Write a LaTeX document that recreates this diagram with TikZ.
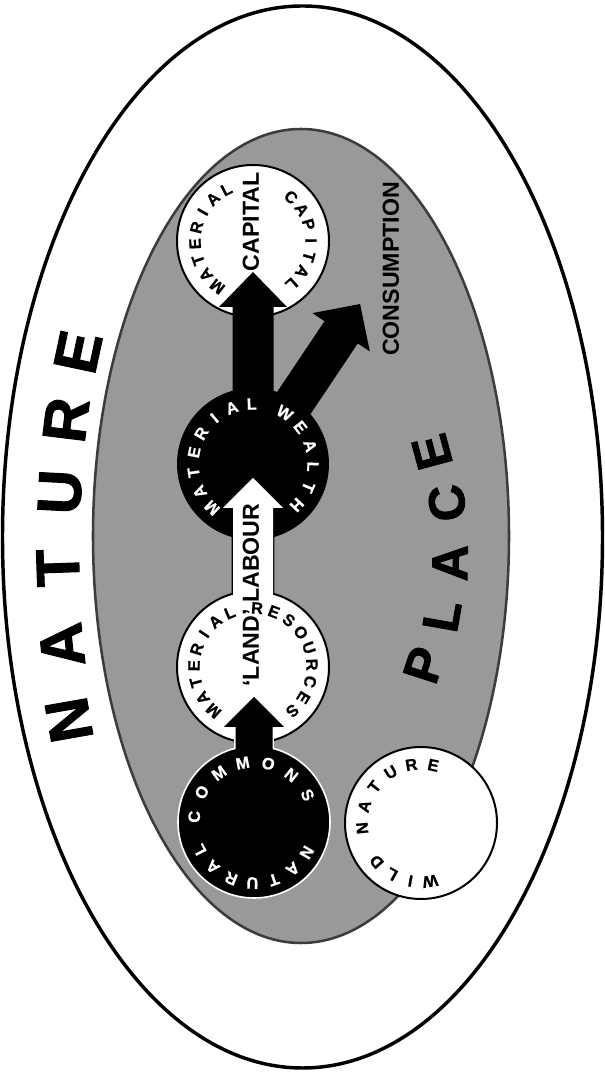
\documentclass[tikz,border=0pt]{standalone}
\usepackage{fontspec}
\setmainfont{Liberation Sans}
\newfontfamily\heavyfont[BoldFeatures={FakeBold=1.6}]{Liberation Sans}
\newfontfamily\midfont[BoldFeatures={FakeBold=0.8}]{Liberation Sans}
\usetikzlibrary{calc}
\definecolor{placegray}{HTML}{999999}
\definecolor{rimgray}{HTML}{3C3C3C}
\newcommand{\arctext}[7]{%
  \foreach \ch [count=\i from 0] in {#6} {%
    \pgfmathsetmacro\ang{#4-\i*(#5)}%
    \node[ctext,text=#7,rotate=\ang-90] (#1-\i) at ($(#2)+(\ang:#3)$) {\ch};
  }%
}
\begin{document}
\begin{tikzpicture}[x=0.75pt,y=0.75pt,
  ctext/.style={font=\midfont\bfseries\fontsize{12.3}{13}\selectfont, inner sep=0pt},
  bigword/.style={font=\heavyfont\bfseries\fontsize{46}{46}\selectfont, inner sep=0pt},
  placeword/.style={font=\heavyfont\bfseries\fontsize{38}{38}\selectfont, inner sep=0pt},
  flowtext/.style={font=\bfseries\fontsize{17.4}{18}\selectfont, inner sep=0pt},
  whitedisc/.style={fill=white, draw=black, line width=1.5pt},
]
\useasboundingbox (0,0) rectangle (605,1074);
% centres
\coordinate (capc) at (253,833);
\coordinate (welc) at (253,610);
\coordinate (resc) at (253,407);
\coordinate (comc) at (254,252);
\coordinate (wildc) at (421,251);
% outer nature ellipse
\path[fill=white, draw=black, line width=2.6pt] (302.5,537) ellipse [x radius=300, y radius=531];
% place ellipse
\path[fill=placegray, draw=rimgray, line width=1.9pt] (301,538) ellipse [x radius=208, y radius=407];
% wild nature
\path[whitedisc] (wildc) circle[radius=76];
% material capital
\path[whitedisc] (capc) circle[radius=76];
% arrows from wealth
\begin{scope}[shift={(welc)}]
  \fill[black] (-20.5,0) -- (-20.5,157) -- (-34,157) -- (0,192) -- (34,157) -- (20.5,157) -- (20.5,0) -- cycle;
\end{scope}
\begin{scope}[shift={(welc)}, rotate=-33.8]
  \fill[black] (-20,0) -- (-20,158.5) -- (-34.5,158.5) -- (0,192.5) -- (34.5,158.5) -- (20,158.5) -- (20,0) -- cycle;
\end{scope}
% material wealth
\fill[black] (welc) circle[radius=76];
% white arrow resources -> wealth
\begin{scope}[shift={(resc)}]
  \path[fill=white, draw=black, line width=2.2pt] (-20,0) -- (-20,159) -- (-30,159) -- (0,189) -- (30,159) -- (20,159) -- (20,0) -- cycle;
\end{scope}
\path[whitedisc] (resc) circle[radius=76];
\begin{scope}[shift={(resc)}]
  \fill[white] (-20,0) -- (-20,159) -- (-30,159) -- (0,189) -- (30,159) -- (20,159) -- (20,0) -- cycle;
\end{scope}
% black arrow commons -> resources
\begin{scope}[shift={(comc)}]
  \path[fill=black, draw=white, line width=2.2pt] (-18.5,0) -- (-18.5,95) -- (-30,95) -- (0,125) -- (30,95) -- (18.5,95) -- (18.5,0) -- cycle;
\end{scope}
\path[fill=black, draw=white, line width=1.2pt] (comc) circle[radius=76];
\begin{scope}[shift={(comc)}]
  \fill[black] (-18.5,0) -- (-18.5,95) -- (-30,95) -- (0,125) -- (30,95) -- (18.5,95) -- (18.5,0) -- cycle;
\end{scope}
% circle texts
\arctext{capm}{capc}{58}{232}{16.4}{M,A,T,E,R,I,A,L}{black}
\arctext{capk}{capc}{58}{49}{16.2}{C,A,P,I,T,A,L}{black}
\arctext{welm}{welc}{60}{227}{19.4}{M,A,T,E,R,I,A,L}{white}
\arctext{welw}{welc}{60}{58}{20.2}{W,E,A,L,T,H}{white}
\arctext{resm}{resc}{59}{228}{16.4}{M,A,T,E,R,I,A,L}{black}
\arctext{resr}{resc}{59}{86}{16.75}{R,E,S,O,U,R,C,E,S}{black}
\arctext{comt}{comc}{60}{175}{24.7}{C,O,M,M,O,N,S}{white}
\arctext{comb}{comc}{61}{-30}{20.5}{N,A,T,U,R,A,L}{white}
\arctext{wildt}{wildc}{59}{185}{21.4}{N,A,T,U,R,E}{black}
\arctext{wildb}{wildc}{59}{-81}{19.3}{W,I,L,D}{black}
% flow labels
\node[flowtext, rotate=90] (capword) at (251,852) {CAPITAL};
\node[flowtext, rotate=90] (consword) at (391,805) {CONSUMPTION};
\node[flowtext, rotate=90] (landword) at (251,479) {‘LAND’ LABOUR};
% NATURE
\node[bigword, rotate=100] (nat1) at (69,354) {N};
\node[bigword, rotate=96] (nat2) at (62,429) {A};
\node[bigword, rotate=92] (nat3) at (58,506) {T};
\node[bigword, rotate=87] (nat4) at (60,582) {U};
\node[bigword, rotate=83] (nat5) at (66,654) {R};
\node[bigword, rotate=78] (nat6) at (78,722) {E};
% PLACE
\node[placeword, rotate=72] (pl1) at (424,409) {P};
\node[placeword, rotate=80] (pl2) at (442,458) {L};
\node[placeword, rotate=89] (pl3) at (450,511) {A};
\node[placeword, rotate=97] (pl4) at (447,571) {C};
\node[placeword, rotate=105] (pl5) at (432,622) {E};
\end{tikzpicture}
\end{document}
